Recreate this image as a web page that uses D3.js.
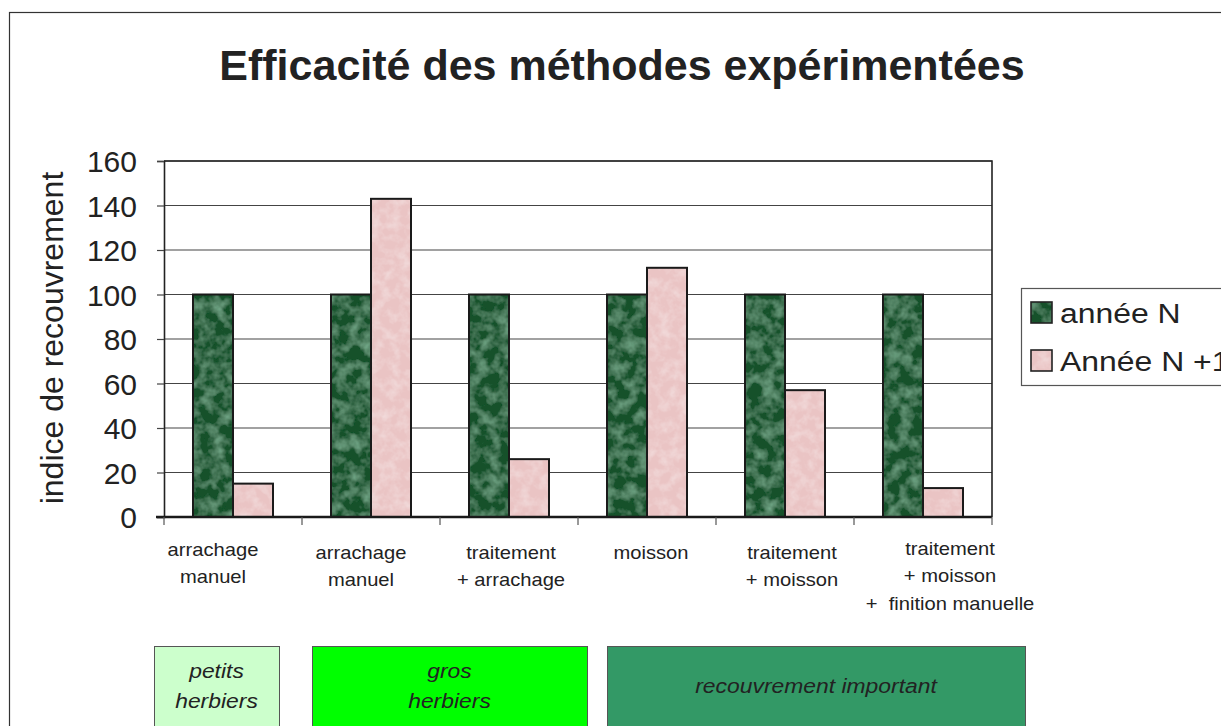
<!DOCTYPE html>
<html><head><meta charset="utf-8">
<script src="https://cdn.jsdelivr.net/npm/d3@7"></script>
<style>body{margin:0;background:#fff}svg{display:block}</style>
</head><body><svg id="c" width="1221" height="726"></svg>
<script>
const categories = [
  ["arrachage","manuel"],
  ["arrachage","manuel"],
  ["traitement","+ arrachage"],
  ["moisson"],
  ["traitement","+ moisson"],
  ["traitement","+ moisson","+  finition manuelle"]
];
const seriesNames = ["année N","Année N +1"];
const anneeN = [100,100,100,100,100,100];
const anneeN1 = [15,143,26,112,57,13];
const yTicks = [0,20,40,60,80,100,120,140,160];
const groupLabels = [["petits","herbiers"],["gros","herbiers"],["recouvrement important"]];
const groupColors = ["#ccffcc","#00ff00","#339966"];

// layout constants (not data)
const labelShift = [-20,-10,2,4,7,27];
const labelTop = [556,559,559,559,559,555];
const boxes = [[154,279],[312,587],[607,1025]];

const svg = d3.select("#c");
const font = "Liberation Sans, Arial, Helvetica, sans-serif";
const M = {l:164, t:161, r:992, b:517};
const GREEN = "#19512c", PINK = "#eac4c4";

// defs: textures
const defs = svg.append("defs");
function texture(id, light, a, b, freq){
  const f = defs.append("filter").attr("id",id).attr("x",0).attr("y",0).attr("width",1).attr("height",1);
  f.append("feTurbulence").attr("type","fractalNoise").attr("baseFrequency",freq).attr("numOctaves",3).attr("seed",7).attr("result","n");
  f.append("feColorMatrix").attr("in","n").attr("type","matrix")
    .attr("values",`0 0 0 0 ${light[0]}  0 0 0 0 ${light[1]}  0 0 0 0 ${light[2]}  ${a} 0 0 0 ${b}`).attr("result","c");
  f.append("feComposite").attr("in","c").attr("in2","SourceGraphic").attr("operator","in").attr("result","ci");
  const m = f.append("feMerge");
  m.append("feMergeNode").attr("in","SourceGraphic");
  m.append("feMergeNode").attr("in","ci");
}
texture("texG",[0.24,0.52,0.34],1.3,-0.5,0.08);
texture("texP",[0.96,0.88,0.88],0.9,-0.35,0.1);

// outer frame
svg.append("rect").attr("x",9.5).attr("y",12.5).attr("width",1400).attr("height",900)
  .attr("fill","#fff").attr("stroke","#333").attr("stroke-width",1.2);

// title
svg.append("text").attr("x",622).attr("y",80).attr("text-anchor","middle")
  .attr("font-family",font).attr("font-weight","bold").attr("font-size",43).attr("fill","#222")
  .text("Efficacité des méthodes expérimentées");

const x = d3.scaleBand().domain(d3.range(categories.length)).range([M.l,M.r]).paddingInner(0).paddingOuter(0);
const inner = d3.scaleBand().domain([0,1]).range([0,x.bandwidth()]).paddingOuter(0.725).paddingInner(0);
const y = d3.scaleLinear().domain([0,160]).range([M.b,M.t]);

// gridlines
svg.append("g").selectAll("line").data(yTicks.filter(d=>d>0)).join("line")
  .attr("x1",M.l).attr("x2",M.r).attr("y1",d=>y(d)).attr("y2",d=>y(d))
  .attr("stroke","#444").attr("stroke-width",1.1);

// y axis
const ya = svg.append("g").attr("transform",`translate(${M.l},0)`)
  .call(d3.axisLeft(y).tickValues(yTicks).tickSize(7).tickPadding(20));
ya.select(".domain").attr("stroke","#222").attr("stroke-width",1.6);
ya.selectAll(".tick line").attr("stroke","#444").attr("stroke-width",1.2);
ya.selectAll(".tick text").attr("font-family",font).attr("font-size",30).attr("fill","#222").attr("dy","0.36em");

// plot frame top/right
svg.append("path").attr("d",`M${M.l},${M.t}H${M.r}V${M.b}`).attr("fill","none").attr("stroke","#222").attr("stroke-width",1.6);

// bars
const data = categories.map((c,i)=>[anneeN[i],anneeN1[i]]);
const g = svg.append("g");
data.forEach((vals,i)=>{
  vals.forEach((v,s)=>{
    g.append("rect")
      .attr("x",x(i)+inner(s)).attr("y",y(v))
      .attr("width",inner.bandwidth()).attr("height",y(0)-y(v))
      .attr("fill", s===0?GREEN:PINK)
      .attr("filter", s===0?"url(#texG)":"url(#texP)");
    g.append("rect")
      .attr("x",x(i)+inner(s)).attr("y",y(v))
      .attr("width",inner.bandwidth()).attr("height",y(0)-y(v))
      .attr("fill","none").attr("stroke","#1a1a1a").attr("stroke-width",2);
  });
});

// x axis
const xa = svg.append("g").attr("transform",`translate(0,${M.b})`);
xa.append("line").attr("x1",M.l-8).attr("x2",M.r).attr("stroke","#1a1a1a").attr("stroke-width",2.4);
xa.selectAll("line.t").data(d3.range(categories.length+1)).join("line").attr("class","t")
  .attr("x1",d=>M.l+d*x.bandwidth()).attr("x2",d=>M.l+d*x.bandwidth())
  .attr("y1",0).attr("y2",8).attr("stroke","#555").attr("stroke-width",1.2);
svg.append("g").selectAll("text").data(categories).join("text")
  .attr("text-anchor","middle").attr("font-family",font).attr("font-size",18).attr("fill","#222")
  .style("white-space","pre")
  .attr("transform",(d,i)=>`translate(${x(i)+x.bandwidth()/2 + labelShift[i]},${labelTop[i]}) scale(1.12,1)`)
  .each(function(d){
    d3.select(this).selectAll("tspan").data(d).join("tspan").attr("x",0).attr("y",(t,k)=>k*27.5).text(t=>t);
  });

// y title
svg.append("text").attr("transform","translate(63,338) rotate(-90)").attr("text-anchor","middle")
  .attr("font-family",font).attr("font-size",32).attr("fill","#222").text("indice de recouvrement");

// legend
const lg = svg.append("g").attr("transform","translate(1021,288)");
lg.append("rect").attr("x",0.5).attr("y",0.5).attr("width",260).attr("height",97).attr("fill","#fff").attr("stroke","#555").attr("stroke-width",1.2);
seriesNames.forEach((n,i)=>{
  lg.append("rect").attr("x",10).attr("y",14+i*48).attr("width",21).attr("height",21)
    .attr("fill",i===0?GREEN:PINK).attr("filter",i===0?"url(#texG)":"url(#texP)");
  lg.append("rect").attr("x",10).attr("y",14+i*48).attr("width",21).attr("height",21)
    .attr("fill","none").attr("stroke","#222").attr("stroke-width",1.6);
  lg.append("text").attr("transform",`translate(39,${35+i*48}) scale(1.14,1)`)
    .attr("font-family",font).attr("font-size",28).attr("fill","#222").text(n);
});

// group boxes
groupLabels.forEach((lab,i)=>{
  const bx = boxes[i];
  svg.append("rect").attr("x",bx[0]+0.5).attr("y",646.5).attr("width",bx[1]-bx[0]).attr("height",120)
    .attr("fill",groupColors[i]).attr("stroke","#555").attr("stroke-width",1);
  const cx = (bx[0]+bx[1])/2;
  const y0 = lab.length===2?678:693;
  const t = svg.append("text").attr("text-anchor","middle").attr("font-family",font).attr("font-style","italic")
    .attr("font-size",21).attr("fill","#222")
    .attr("transform",`translate(${cx},${y0}) scale(1.09,1)`);
  lab.forEach((l,k)=>t.append("tspan").attr("x",0).attr("y",k*30).text(l));
});
</script></body></html>
